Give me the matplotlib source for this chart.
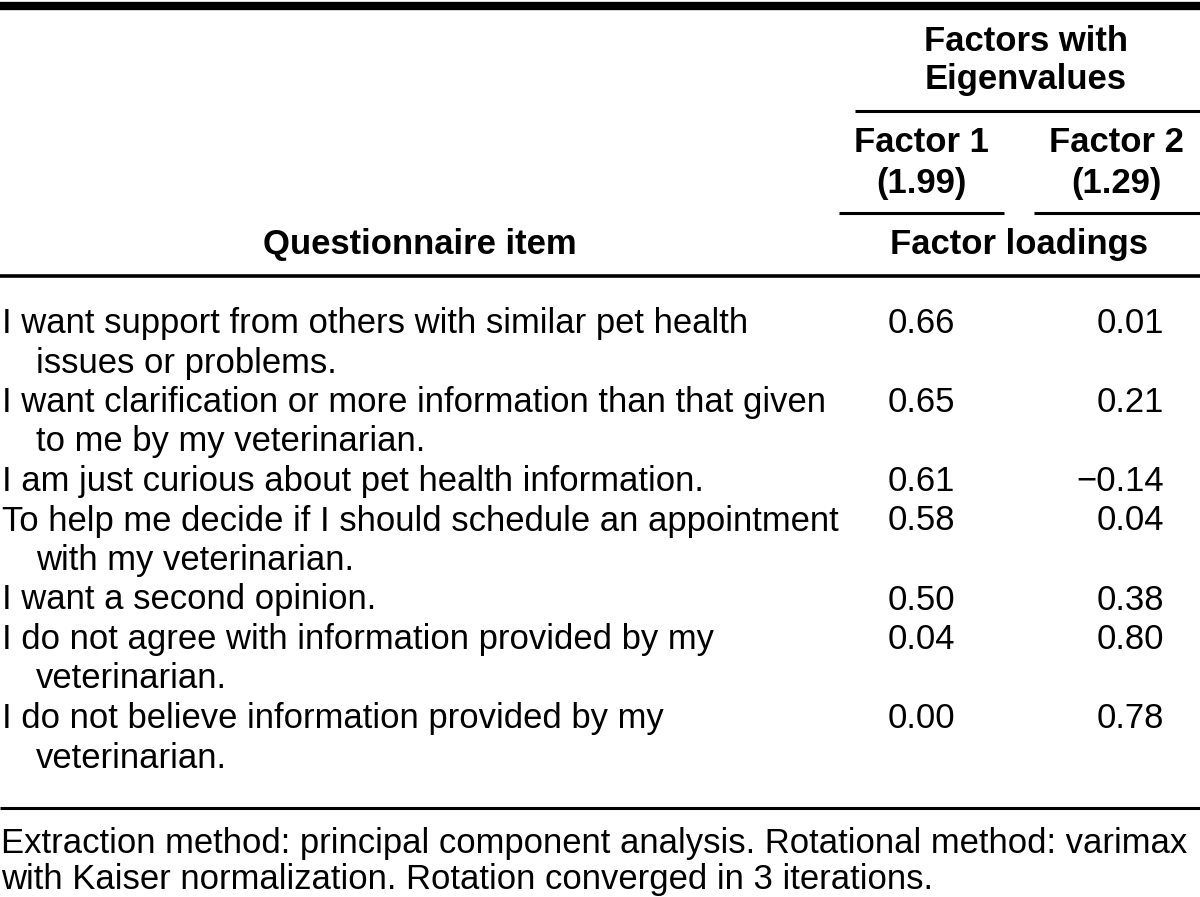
import matplotlib.pyplot as plt

plt.rcParams['font.family'] = ['Liberation Sans', 'DejaVu Sans']

# table contents
items = [
    ['I want support from others with similar pet health', 'issues or problems.'],
    ['I want clarification or more information than that given', 'to me by my veterinarian.'],
    ['I am just curious about pet health information.'],
    ['To help me decide if I should schedule an appointment', 'with my veterinarian.'],
    ['I want a second opinion.'],
    ['I do not agree with information provided by my', 'veterinarian.'],
    ['I do not believe information provided by my', 'veterinarian.'],
]
factor1 = [0.66, 0.65, 0.61, 0.58, 0.50, 0.04, 0.00]
factor2 = [0.01, 0.21, -0.14, 0.04, 0.38, 0.80, 0.78]
col_heads = ['Factor 1\n(1.99)', 'Factor 2\n(1.29)']
group_head = ['Factors with', 'Eigenvalues']
footnote = ['Extraction method: principal component analysis. Rotational method: varimax',
            'with Kaiser normalization. Rotation converged in 3 iterations.']

W, H = 1200, 897
fs = 24.95
fig = plt.figure(figsize=(W / 100, H / 100), dpi=100)
ax = fig.add_axes([0, 0, 1, 1])
ax.set_xlim(0, W)
ax.set_ylim(H, 0)
ax.axis('off')


def fmt(v):
    s = '%.2f' % abs(v)
    return ('\u2212' + s) if v < 0 else s


# rules
ax.plot([0, W], [6, 6], color='black', lw=6, solid_capstyle='butt')
ax.plot([855, W], [111, 111], color='black', lw=2.2, solid_capstyle='butt')
ax.plot([839, 1004], [213, 213], color='black', lw=2.2, solid_capstyle='butt')
ax.plot([1034, W], [213, 213], color='black', lw=2.2, solid_capstyle='butt')
ax.plot([0, W], [276, 276], color='black', lw=2.6, solid_capstyle='butt')
ax.plot([0, W], [808, 808], color='black', lw=2.2, solid_capstyle='butt')

# header
for i, t in enumerate(group_head):
    ax.text(1026, 51 + 38.5 * i, t, ha='center', va='baseline', fontsize=fs, fontweight='bold')
for x, t in zip([921, 1116], col_heads):
    for j, part in enumerate(t.split('\n')):
        ax.text(x, 152 + 41 * j, part, ha='center', va='baseline', fontsize=fs, fontweight='bold')
ax.text(420, 254, 'Questionnaire item', ha='center', va='baseline', fontsize=fs, fontweight='bold')
ax.text(1019, 254, 'Factor loadings', ha='center', va='baseline', fontsize=fs, fontweight='bold')

# body
y0, dy = 333, 39.5
k = 0
for item, f1, f2 in zip(items, factor1, factor2):
    yb = y0 + dy * k
    ax.text(888, yb, fmt(f1), ha='left', va='baseline', fontsize=fs)
    ax.text(1164, yb, fmt(f2), ha='right', va='baseline', fontsize=fs)
    for j, line in enumerate(item):
        ax.text(2 if j == 0 else 36, y0 + dy * k, line, ha='left', va='baseline', fontsize=fs)
        k += 1

# footnote
for i, t in enumerate(footnote):
    ax.text(1, 853 + 36 * i, t, ha='left', va='baseline', fontsize=fs)

fig.savefig('out.png', dpi=100)
